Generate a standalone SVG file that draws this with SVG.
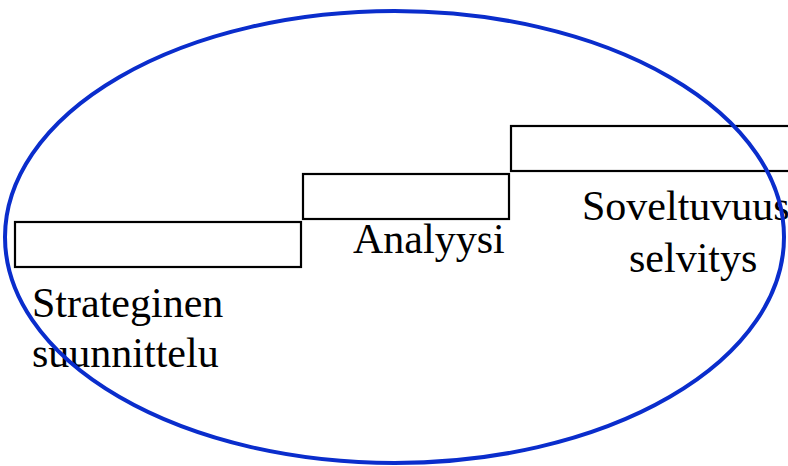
<svg xmlns="http://www.w3.org/2000/svg" width="788" height="466" viewBox="0 0 788 466">
<style>
.box{fill:#fff;stroke:#000;stroke-width:2.2}
.lbl{font-family:"Liberation Serif","Times New Roman",serif;font-size:42px;fill:#000}
.ring{fill:none;stroke:#0a2dcc;stroke-width:4}
</style>
<rect width="788" height="466" fill="#fff"/>
<g id="strateginen">
<rect class="box" x="15" y="222" width="286" height="45"/>
<text class="lbl" x="32" y="317">Strateginen</text>
<text class="lbl" x="32" y="367">suunnittelu</text>
</g>
<g id="analyysi">
<rect class="box" x="303" y="174" width="206" height="45"/>
<text class="lbl" x="353" y="253">Analyysi</text>
</g>
<g id="soveltuvuus">
<rect class="box" x="511" y="126" width="290" height="45"/>
<text class="lbl" x="582" y="220">Soveltuvuus</text>
<text class="lbl" x="629" y="272">selvitys</text>
</g>
<g id="connectors"></g>
<g id="boundary">
<ellipse class="ring" cx="394.5" cy="237" rx="389.5" ry="226"/>
</g>
</svg>
